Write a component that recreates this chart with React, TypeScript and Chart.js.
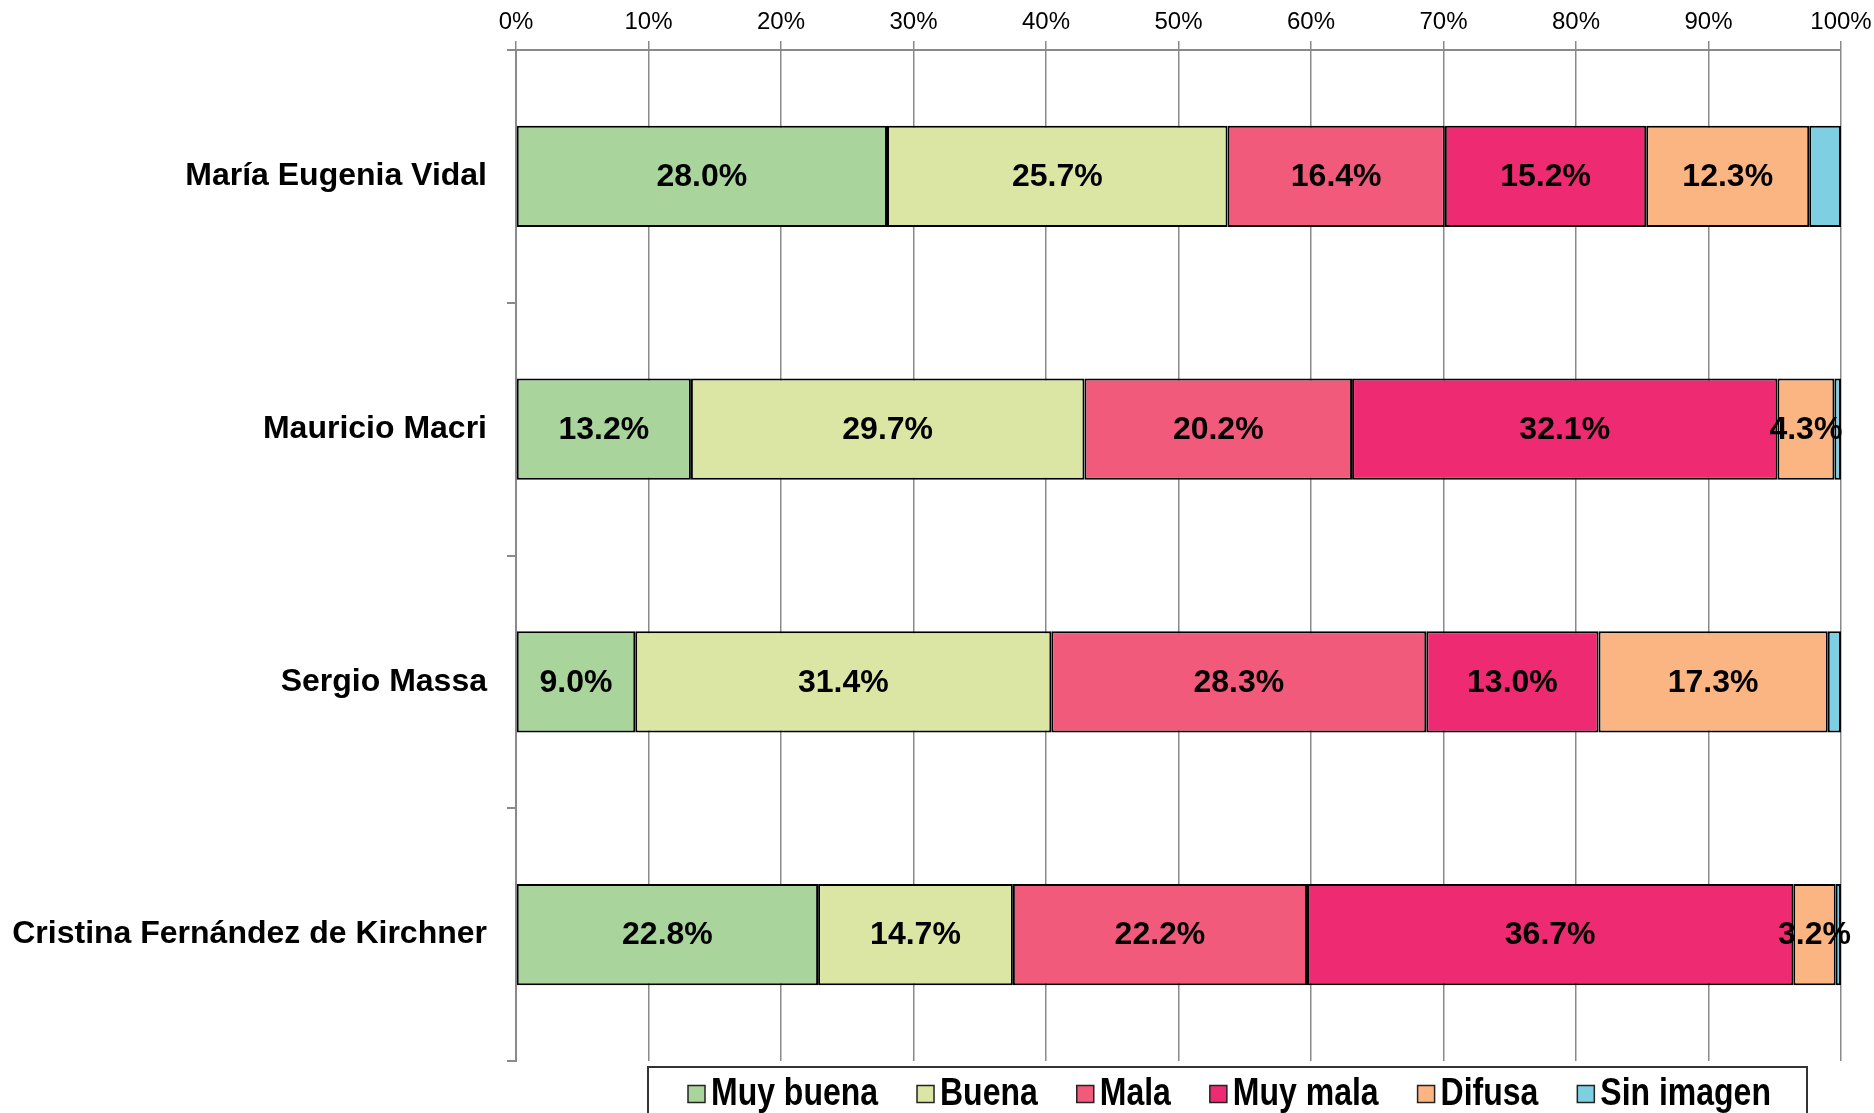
import React, { useEffect, useRef } from "react";
import { Chart, registerables } from "chart.js";

Chart.register(...registerables);

const categories = [
  "María Eugenia Vidal",
  "Mauricio Macri",
  "Sergio Massa",
  "Cristina Fernández de Kirchner",
];

const seriesNames = ["Muy buena", "Buena", "Mala", "Muy mala", "Difusa", "Sin imagen"];
const seriesColors = ["#A9D59D", "#DCE6A4", "#F25A7C", "#EE2B72", "#FBB582", "#7ECFE1"];

const muyBuena = [28.0, 13.2, 9.0, 22.8];
const buena = [25.7, 29.7, 31.4, 14.7];
const mala = [16.4, 20.2, 28.3, 22.2];
const muyMala = [15.2, 32.1, 13.0, 36.7];
const difusa = [12.3, 4.3, 17.3, 3.2];
const sinImagen = [2.4, 0.5, 1.0, 0.4];

const xTicks = [0, 10, 20, 30, 40, 50, 60, 70, 80, 90, 100];

const FONT = "'Liberation Sans', Arial, sans-serif";

const dataLabelPlugin = {
  id: "dataLabels",
  afterDatasetsDraw(chart: any) {
    const ctx = chart.ctx;
    ctx.save();
    ctx.font = `bold 32px ${FONT}`;
    ctx.fillStyle = "#000";
    ctx.textAlign = "center";
    ctx.textBaseline = "middle";
    chart.data.datasets.forEach((ds: any, i: number) => {
      if (i === chart.data.datasets.length - 1) return;
      const meta = chart.getDatasetMeta(i);
      meta.data.forEach((bar: any, j: number) => {
        const p = bar.getProps(["x", "y", "base"], true);
        const cx = (p.x + p.base) / 2;
        ctx.fillText(Number(ds.data[j]).toFixed(1) + "%", cx, p.y + 1);
      });
    });
    ctx.restore();
  },
};

const legendPlugin = {
  id: "customLegend",
  afterDraw(chart: any) {
    const ctx = chart.ctx;
    const area = chart.chartArea;
    const boxLeft = area.left + 132;
    const boxRight = area.right - 34;
    const boxTop = area.bottom + 6;
    const boxW = boxRight - boxLeft;
    ctx.save();
    ctx.strokeStyle = "#333";
    ctx.lineWidth = 2;
    ctx.strokeRect(boxLeft, boxTop, boxW, chart.height - boxTop + 20);

    const sx = 0.82;
    ctx.font = `bold 39px ${FONT}`;
    const sq = 17;
    const gap1 = 6;
    const gap2 = 39;
    let x = boxLeft + 40;
    const cy = boxTop + 26;
    ctx.textBaseline = "middle";
    ctx.textAlign = "left";
    chart.data.datasets.forEach((d: any) => {
      const w = ctx.measureText(d.label).width * sx;
      ctx.fillStyle = d.backgroundColor;
      ctx.fillRect(x, cy - sq / 2 + 1, sq, sq);
      ctx.strokeStyle = "#222";
      ctx.lineWidth = 1.5;
      ctx.strokeRect(x, cy - sq / 2 + 1, sq, sq);
      x += sq + gap1;
      ctx.save();
      ctx.translate(x, cy + 1);
      ctx.scale(sx, 1);
      ctx.fillStyle = "#000";
      ctx.fillText(d.label, 0, 0);
      ctx.restore();
      x += w + gap2;
    });
    ctx.restore();
  },
};

export default function App() {
  const ref = useRef<HTMLCanvasElement | null>(null);

  useEffect(() => {
    document.body.style.margin = "0";
    if (!ref.current) return;
    const seriesData = [muyBuena, buena, mala, muyMala, difusa, sinImagen];
    const chart = new Chart(ref.current, {
      type: "bar",
      data: {
        labels: categories,
        datasets: seriesNames.map((name, i) => ({
          label: name,
          data: seriesData[i],
          backgroundColor: seriesColors[i],
          borderColor: "#000",
          borderWidth: 2,
          borderSkipped: false,
          barPercentage: 1,
          categoryPercentage: 0.4,
        })),
      },
      options: {
        indexAxis: "y",
        responsive: false,
        animation: false,
        layout: { padding: { left: 0, right: 33, top: 0, bottom: 52 } },
        plugins: {
          legend: { display: false },
          tooltip: { enabled: false },
        },
        scales: {
          x: {
            position: "top",
            stacked: true,
            min: 0,
            max: 100,
            afterFit: (axis: any) => {
              axis.height = 50;
              axis.paddingLeft = 0;
              axis.paddingRight = 0;
            },
            afterBuildTicks: (axis: any) => {
              axis.ticks = xTicks.map((v) => ({ value: v }));
            },
            ticks: {
              callback: (v: any) => v + "%",
              font: { family: FONT, size: 24 },
              color: "#000",
              padding: 4,
              maxRotation: 0,
              autoSkip: false,
            },
            grid: {
              color: "#8a8a8a",
              lineWidth: 1.5,
              tickLength: 9,
              drawOnChartArea: true,
            },
            border: { display: true, color: "#8a8a8a", width: 2 },
          },
          y: {
            stacked: true,
            afterFit: (axis: any) => {
              axis.width = 516;
            },
            ticks: {
              font: { family: FONT, size: 32, weight: "bold" },
              color: "#000",
              padding: 20,
            },
            grid: {
              offset: true,
              drawOnChartArea: false,
              drawTicks: true,
              tickLength: 9,
              color: "#8a8a8a",
              lineWidth: 2,
            },
            border: { display: true, color: "#8a8a8a", width: 2 },
          },
        },
      },
      plugins: [dataLabelPlugin, legendPlugin],
    });
    return () => chart.destroy();
  }, []);

  return (
    <div style={{ position: "absolute", left: 0, top: 0, width: 1874, height: 1113, background: "#fff" }}>
      <canvas ref={ref} width={1874} height={1113} style={{ display: "block" }} />
    </div>
  );
}
